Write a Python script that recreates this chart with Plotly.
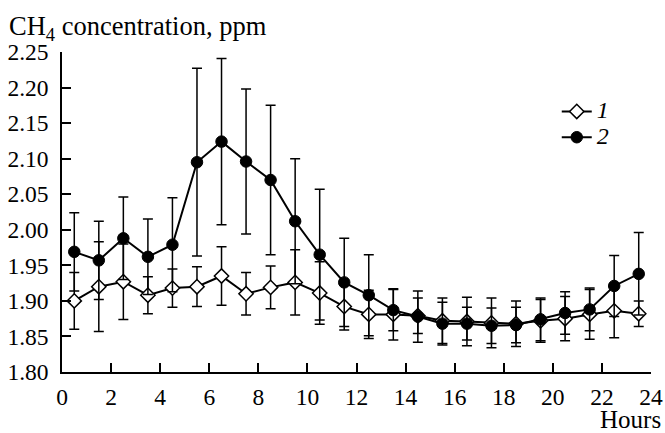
import plotly.graph_objects as go

hours = [0.5, 1.5, 2.5, 3.5, 4.5, 5.5, 6.5, 7.5, 8.5, 9.5, 10.5, 11.5,
         12.5, 13.5, 14.5, 15.5, 16.5, 17.5, 18.5, 19.5, 20.5, 21.5, 22.5, 23.5]

s1_mean = [1.900, 1.920, 1.927, 1.908, 1.918, 1.920, 1.935, 1.910, 1.919, 1.926, 1.911, 1.892,
           1.881, 1.881, 1.879, 1.872, 1.871, 1.869, 1.868, 1.872, 1.875, 1.881, 1.886, 1.882]
s1_err = [0.040, 0.063, 0.053, 0.026, 0.027, 0.028, 0.041, 0.030, 0.030, 0.046, 0.044, 0.033,
          0.034, 0.036, 0.025, 0.032, 0.034, 0.035, 0.032, 0.030, 0.031, 0.035, 0.038, 0.018]

s2_mean = [1.969, 1.957, 1.988, 1.962, 1.979, 2.095, 2.124, 2.096, 2.070, 2.012, 1.965, 1.926,
           1.908, 1.887, 1.878, 1.868, 1.868, 1.865, 1.866, 1.874, 1.883, 1.888, 1.921, 1.938]
s2_err = [0.055, 0.055, 0.058, 0.053, 0.066, 0.132, 0.117, 0.102, 0.105, 0.088, 0.092, 0.062,
          0.057, 0.029, 0.036, 0.030, 0.023, 0.025, 0.025, 0.030, 0.030, 0.030, 0.043, 0.058]

y_ticks = [1.80, 1.85, 1.90, 1.95, 2.00, 2.05, 2.10, 2.15, 2.20, 2.25]
x_ticks = list(range(0, 25, 2))

FONT = "Liberation Serif"
FS = 23.5
TFS = 26.5

fig = go.Figure()
fig.add_trace(go.Scatter(
    x=hours, y=s1_mean, mode="lines+markers",
    name='<span style="font-size:24px"><i>1</i></span>',
    line=dict(color="black", width=2),
    marker=dict(symbol="diamond", size=11, color="white", line=dict(color="black", width=1.5)),
    error_y=dict(type="data", array=s1_err, visible=True, color="black", thickness=1.5, width=5),
))
fig.add_trace(go.Scatter(
    x=hours, y=s2_mean, mode="lines+markers",
    name='<span style="font-size:24px"><i>2</i></span>',
    line=dict(color="black", width=2),
    marker=dict(symbol="circle", size=11.5, color="black", line=dict(color="black", width=1)),
    error_y=dict(type="data", array=s2_err, visible=True, color="black", thickness=1.5, width=5),
))

fig.update_layout(
    width=665, height=433,
    margin=dict(l=62, r=14, t=52, b=61, autoexpand=False),
    paper_bgcolor="white", plot_bgcolor="white",
    font=dict(family=FONT, size=FS, color="black"),
    showlegend=True,
    legend=dict(x=0.840, y=0.87, xanchor="left", yanchor="top",
                bgcolor="rgba(0,0,0,0)", font=dict(size=17.5, family=FONT),
                tracegroupgap=0, itemwidth=30),
    xaxis=dict(range=[0, 24], tickvals=x_ticks, ticks="inside", ticklen=9,
               tickwidth=1.5, tickcolor="black", showline=True, linecolor="black",
               linewidth=1.5, showgrid=False, zeroline=False, mirror=False, automargin=False,
               ticklabelstandoff=3, tickfont=dict(size=FS, family=FONT)),
    yaxis=dict(range=[1.80, 2.25], tickvals=y_ticks, tickformat=".2f", ticks="inside",
               ticklen=9, tickwidth=1.5, tickcolor="black", showline=True, linecolor="black",
               linewidth=1.5, showgrid=False, zeroline=False, ticklabelstandoff=7, automargin=False,
               tickfont=dict(size=FS, family=FONT)),
    annotations=[
        dict(text="CH<sub>4</sub> concentration, ppm", xref="paper", yref="paper",
             x=-0.094, y=1.0, yshift=5, xanchor="left", yanchor="bottom", showarrow=False,
             font=dict(size=TFS, family=FONT)),
        dict(text="Hours", xref="paper", yref="paper", x=1.02, y=0, yshift=-32,
             xanchor="right", yanchor="top", showarrow=False, font=dict(size=25, family=FONT)),
    ],
)

fig.write_html("out.html", config={"displayModeBar": False},
               post_script="document.body.style.margin='0';document.body.style.overflow='hidden';")
